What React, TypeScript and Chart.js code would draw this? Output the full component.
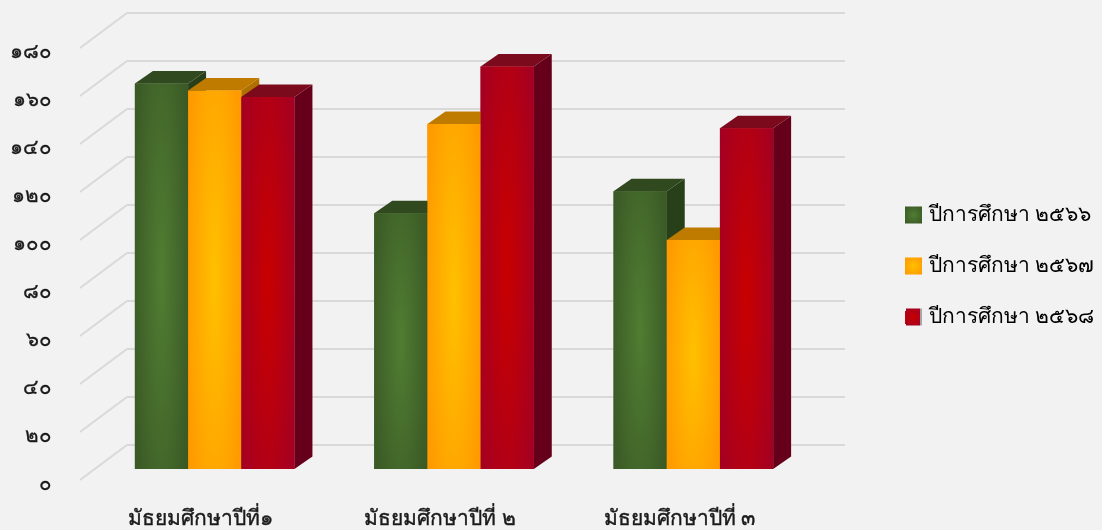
import React, { useEffect, useRef } from "react";
import { Chart, registerables } from "chart.js";

Chart.register(...registerables);

const categories = ["มัธยมศึกษาปีที่๑", "มัธยมศึกษาปีที่ ๒", "มัธยมศึกษาปีที่ ๓"];
const seriesNames = ["ปีการศึกษา ๒๕๖๖", "ปีการศึกษา ๒๕๖๗", "ปีการศึกษา ๒๕๖๘"];
const values2566 = [160.6, 106.6, 115.7];
const values2567 = [157.7, 143.7, 95.4];
const values2568 = [155, 167.7, 142];
const tickLabels = ["๐", "๒๐", "๔๐", "๖๐", "๘๐", "๑๐๐", "๑๒๐", "๑๔๐", "๑๖๐", "๑๘๐"];

const allValues = [values2566, values2567, values2568];
const centerColors = ["#507d32", "#ffc000", "#c80000"];
const edgeColors = ["#3b5a26", "#ff9a00", "#a50021"];
const topColors = ["#31491e", "#bf7a00", "#7a0a1c"];
const sideColors = ["#27401a", "#b07000", "#66001a"];

const DX = 18;
const DY = 12.5;
const WALL_DX = 47;
const WALL_DY = 35;
const FRONT_DX = -15;
const FRONT_DY = 11;
const SWATCH = 17;
const LEGEND_PAD = 30;
const LEGEND_FONT = 21;
const FONT = "'Noto Sans', 'Liberation Sans', sans-serif";

function drawWall(chart: any) {
  const { ctx, chartArea: a, scales } = chart;
  const y = scales.y;
  ctx.save();
  ctx.strokeStyle = "#d9d9d9";
  ctx.lineWidth = 2;
  y.ticks.forEach((t: any) => {
    const py = y.getPixelForValue(t.value);
    const x0 = a.left + FRONT_DX;
    const y0 = py + FRONT_DY;
    const x1 = x0 + WALL_DX;
    const y1 = y0 - WALL_DY;
    const x2 = a.right + FRONT_DX + WALL_DX;
    ctx.beginPath();
    ctx.moveTo(x0, y0);
    ctx.lineTo(x1, y1);
    ctx.lineTo(x2, y1);
    ctx.stroke();
  });
  ctx.restore();
}

function fillGlow(ctx: any, i: number, l: number, t: number, w: number, h: number, rx: number, ry: number) {
  ctx.save();
  ctx.beginPath();
  ctx.rect(l, t, w, h);
  ctx.clip();
  ctx.translate(l + w / 2, t + h / 2);
  ctx.scale(rx, ry);
  const g = ctx.createRadialGradient(0, 0, 0, 0, 0, 1);
  g.addColorStop(0, centerColors[i]);
  g.addColorStop(1, edgeColors[i]);
  ctx.fillStyle = g;
  ctx.fillRect(-w / rx, -h / ry, (2 * w) / rx, (2 * h) / ry);
  ctx.restore();
}

const bars3d = {
  id: "bars3d",
  beforeDatasetsDraw(chart: any) {
    drawWall(chart);
  },
  afterDatasetsDraw(chart: any) {
    const { ctx } = chart;
    allValues.forEach((_vals, i) => {
      chart.getDatasetMeta(i).data.forEach((bar: any) => {
        const { x, y, base, width } = bar.getProps(["x", "y", "base", "width"], true);
        const l = x - width / 2;
        const r = x + width / 2;
        ctx.save();
        ctx.fillStyle = sideColors[i];
        ctx.beginPath();
        ctx.moveTo(r, y);
        ctx.lineTo(r + DX, y - DY);
        ctx.lineTo(r + DX, base - DY);
        ctx.lineTo(r, base);
        ctx.closePath();
        ctx.fill();
        ctx.fillStyle = topColors[i];
        ctx.beginPath();
        ctx.moveTo(l, y);
        ctx.lineTo(l + DX, y - DY);
        ctx.lineTo(r + DX, y - DY);
        ctx.lineTo(r, y);
        ctx.closePath();
        ctx.fill();
        ctx.restore();
        const h = base - y;
        fillGlow(ctx, i, l, y, width, h, width * 0.55, h * 0.8);
      });
    });
  },
  afterLayout(chart: any) {
    const lg = chart.legend;
    if (lg) {
      lg.left = 875;
      lg.right = 1102;
      lg.top = 175;
      lg.bottom = 530;
    }
  },
  afterDraw(chart: any) {
    const lg = chart.legend;
    const { ctx } = chart;
    seriesNames.forEach((_n, i) => {
      const x = lg.left + LEGEND_PAD;
      const cy = lg.top + LEGEND_PAD + LEGEND_FONT / 2 + i * (LEGEND_PAD + LEGEND_FONT) - 0.5;
      if (i === 2) {
        ctx.fillStyle = "#a6a6a6";
        ctx.fillRect(x + SWATCH - 2, cy - SWATCH / 2, 2, SWATCH);
        fillGlow(ctx, i, x + 1, cy - SWATCH / 2, SWATCH - 3, SWATCH, 10, 10);
      } else {
        fillGlow(ctx, i, x, cy - SWATCH / 2, SWATCH, SWATCH, 11, 11);
      }
    });
  },
};

const noPad = (s: any) => {
  s.paddingTop = 0;
  s.paddingBottom = 0;
  s.paddingLeft = 0;
  s.paddingRight = 0;
};

export default function App() {
  const ref = useRef<HTMLCanvasElement | null>(null);
  useEffect(() => {
    document.body.style.background = "#f2f2f2";
    const chart = new Chart(ref.current as HTMLCanvasElement, {
      type: "bar",
      data: {
        labels: categories,
        datasets: allValues.map((data, i) => ({
          label: seriesNames[i],
          data,
          backgroundColor: edgeColors[i],
          borderWidth: 0,
          barPercentage: 1,
          categoryPercentage: 2 / 3,
        })),
      },
      options: {
        responsive: false,
        animation: false,
        devicePixelRatio: 1,
        layout: { padding: { left: 0, right: 289, top: 37, bottom: 0 } },
        plugins: {
          title: { display: false },
          tooltip: { enabled: false },
          legend: {
            position: "chartArea",
            align: "start",
            labels: {
              boxWidth: 13,
              boxHeight: 13,
              padding: LEGEND_PAD,
              color: "#1a1a1a",
              font: { size: LEGEND_FONT, family: FONT },
              generateLabels: () =>
                seriesNames.map((text, i) => ({
                  text,
                  fillStyle: centerColors[i],
                  strokeStyle: edgeColors[i],
                  lineWidth: 0,
                  datasetIndex: i,
                  hidden: false,
                })),
            },
          },
        },
        scales: {
          x: {
            grid: { display: false, drawTicks: false },
            border: { display: false },
            afterFit: (s: any) => {
              s.height = 61;
              noPad(s);
            },
            ticks: {
              color: "#1a1a1a",
              maxRotation: 0,
              minRotation: 0,
              labelOffset: -14,
              padding: 37,
              textStrokeColor: "#1a1a1a",
              textStrokeWidth: 0.4,
              font: { size: 21, family: FONT },
            },
          },
          y: {
            min: 0,
            max: 180,
            grid: { display: false, drawTicks: false },
            border: { display: false },
            afterFit: (s: any) => {
              s.width = 95;
              noPad(s);
            },
            ticks: {
              stepSize: 20,
              color: "#1a1a1a",
              padding: 43,
              labelOffset: 15,
              textStrokeColor: "#1a1a1a",
              textStrokeWidth: 0.3,
              font: { size: 20.5, family: FONT },
              callback: (_v: any, i: number) => tickLabels[i],
            },
          },
        },
      },
      plugins: [bars3d],
    } as any);
    return () => chart.destroy();
  }, []);
  return (
    <canvas
      ref={ref}
      width={1102}
      height={530}
      style={{ position: "fixed", left: 0, top: 0, width: 1102, height: 530, display: "block", background: "#f2f2f2" }}
    />
  );
}
